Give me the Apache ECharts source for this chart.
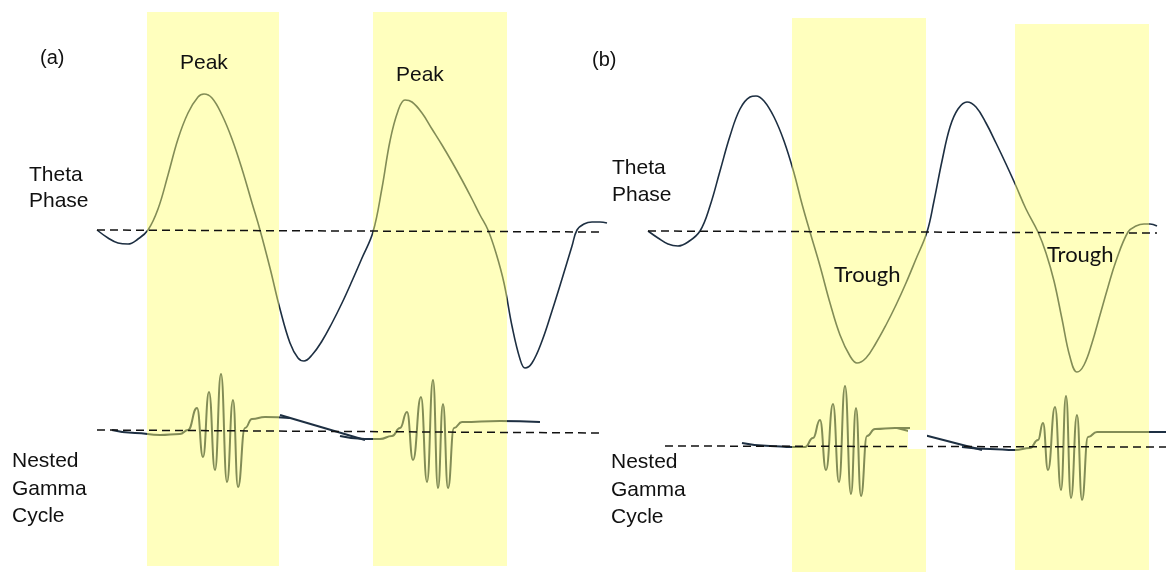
<!DOCTYPE html>
<html>
<head>
<meta charset="utf-8">
<script src="https://cdn.jsdelivr.net/npm/echarts@6/dist/echarts.min.js"></script>
<style>
  html, body { margin: 0; padding: 0; background: #fff; }
  #chart { width: 1166px; height: 573px; }
</style>
</head>
<body>
<div id="chart"></div>
<script>
// Time in ms, amplitude in µV relative to each trace's resting level.

// (a) theta wave: gamma bursts ride on the peaks
const thetaA = [
  [3.5, 1], [9, -7], [14, -12], [19, -13], [24, -8], [29, 1], [34, 22], [39, 56],
  [44, 92], [49, 118], [54, 134], [57, 137], [61, 133], [66, 116], [71, 92], [76, 62],
  [81, 28], [85, 1], [90, -37], [95, -78], [100, -112], [104, -127], [107, -130],
  [111, -124], [116, -110], [121, -92], [126, -72], [131, -50], [136, -27], [141.5, -1],
  [146, 43], [150, 90], [154, 120], [157.5, 131], [161, 129], [166, 118], [171, 102],
  [176, 86], [181, 69], [186, 51], [191, 32], [195, 16], [199, 1], [203, -22],
  [207, -52], [211, -95], [215, -128], [217.5, -137], [221, -132], [226, -110],
  [231, -80], [236, -48], [241, -15], [243.5, 1], [247, 7], [251, 9], [255, 9],
  [258.5, 8]
];
const thetaBaseA = [[3.5, 1], [256.5, -1]];

const gammaA1 = [
  [11, 0], [22.5, -3], [35, -5], [45, -4], [49, 0], [53.5, 22], [56.5, -27],
  [59.5, 38], [62.5, -40], [65.5, 56], [68.5, -52], [71.5, 30], [74, -57],
  [77.5, 2], [81, 11], [87.5, 13], [100, 12]
];
const gammaLinkA = [[95, 15], [137.5, -10]];
const gammaA2 = [
  [125, -6], [137.5, -9], [145, -9], [151, -6], [155, 2], [158.5, 18], [161.5, -30],
  [165.5, 33], [168.5, -52], [171.5, 50], [174, -58], [176.5, 26], [179, -58],
  [182, 2], [186, 8], [205, 9], [225, 8]
];
const gammaBaseA = [[3.5, 0], [256.5, -3]];

// (b) theta wave: gamma bursts ride on the troughs
const thetaB = [
  [4, 0], [9, -7], [14, -13], [19, -15], [24, -11], [30, 0], [35, 25], [40, 60],
  [45, 95], [50, 122], [55, 134], [58, 135], [62, 130], [67, 114], [72, 90], [77, 58],
  [81, 27], [85, -1], [90, -35], [95, -72], [100, -104], [105, -125], [108.5, -132],
  [113, -127], [118, -112], [123, -94], [128, -74], [133, -52], [138, -28], [143.5, -1],
  [147, 30], [151, 70], [155, 104], [159, 122], [163.5, 129], [168, 124], [173, 108],
  [178, 88], [183, 67], [188, 45], [193, 22], [199, -1], [203, -22], [207, -50],
  [211, -88], [215, -126], [218.5, -141], [222, -134], [226, -112], [230, -84],
  [234, -56], [238, -30], [244, -1], [248, 5], [252, 7], [255, 7], [258.5, 5]
];
const thetaBaseB = [[4, 0], [258.5, -2]];

const gammaB1 = [
  [51, 3], [65, 0], [76, -1], [82.5, -1], [86.5, 8], [90, 26], [93, -24], [96.5, 42],
  [99.5, -36], [102.5, 60], [105.5, -48], [108, 38], [110.5, -50], [113.5, 10],
  [117.5, 17], [127.5, 18], [135, 18]
];
const gammaLinkB = [[128.5, 18], [171, -4]];
const gammaB2 = [
  [161, -1], [175, -3], [187.5, -4], [195, -2], [199, 6], [201.5, 23], [204, -24],
  [207.5, 39], [210.5, -44], [213, 50], [215.5, -52], [218.5, 31], [221, -54],
  [224, 9], [228.5, 14], [245, 14], [263, 14]
];
const gammaBaseB = [[12.5, 0], [263, -1]];

// shaded phase windows: [start ms, end ms, top µV, bottom µV] on the theta scale
const bandsA = [[28.5, 94.5, 219, -335], [141.5, 208.5, 219, -335]];
const bandsB = [[76, 143, 213, -341], [187.5, 254.5, 207, -339]];

const INK = '#1d2f42';
const BAND = 'rgba(255,255,110,0.45)';

function trace(data, xi, yi, width, smooth, monotone) {
  return {
    type: 'line', xAxisIndex: xi, yAxisIndex: yi, data: data,
    showSymbol: false, symbol: 'none', smooth: smooth,
    smoothMonotone: monotone || null, z: 3,
    lineStyle: { color: INK, width: width }, silent: true
  };
}
function baseline(data, xi, yi) {
  return {
    type: 'line', xAxisIndex: xi, yAxisIndex: yi, data: data,
    showSymbol: false, symbol: 'none', z: 20, silent: true,
    lineStyle: { color: '#111', width: 1.5, type: [8, 5] }
  };
}
function bands(data, xi, yi) {
  return {
    type: 'custom', xAxisIndex: xi, yAxisIndex: yi, data: data, z: 10, silent: true,
    renderItem: function (params, api) {
      const p0 = api.coord([api.value(0), api.value(2)]);
      const p1 = api.coord([api.value(1), api.value(3)]);
      return {
        type: 'rect',
        shape: { x: p0[0], y: p0[1], width: p1[0] - p0[0], height: p1[1] - p0[1] },
        style: { fill: BAND }
      };
    }
  };
}

const SANS = '"Liberation Sans", Arial, sans-serif';
const HUMANIST = 'Lato, "Open Sans", sans-serif';
function label(text, x, y, size, family) {
  return {
    type: 'text', x: x, y: y, z: 100, silent: true,
    style: {
      text: text, fill: '#111', font: size + 'px ' + (family || SANS),
      align: 'left', verticalAlign: 'middle'
    }
  };
}

const hiddenAxis = (min, max, grid) => ({
  type: 'value', gridIndex: grid, min: min, max: max, show: false,
  splitLine: { show: false }
});

const chart = echarts.init(document.getElementById('chart'), null, { renderer: 'canvas' });
chart.setOption({
  animation: false,
  backgroundColor: '#ffffff',
  grid: [
    { left: 90, width: 520, top: 0, bottom: 0, show: false },
    { left: 640, width: 526, top: 0, bottom: 0, show: false }
  ],
  xAxis: [hiddenAxis(0, 260, 0), hiddenAxis(0, 263, 1)],
  yAxis: [
    hiddenAxis(-342, 231, 0),   // theta (a)
    hiddenAxis(-143, 430, 0),   // gamma (a)
    hiddenAxis(-342, 231, 1),   // theta (b)
    hiddenAxis(-127, 446, 1)    // gamma (b)
  ],
  series: [
    baseline(thetaBaseA, 0, 0),
    baseline(gammaBaseA, 0, 1),
    trace(thetaA, 0, 0, 1.6, 0.4),
    trace(gammaA1, 0, 1, 2, 0.5, 'x'),
    trace(gammaLinkA, 0, 1, 2, false),
    trace(gammaA2, 0, 1, 2, 0.5, 'x'),
    bands(bandsA, 0, 0),

    baseline(thetaBaseB, 1, 2),
    baseline(gammaBaseB, 1, 3),
    trace(thetaB, 1, 2, 1.6, 0.4),
    trace(gammaB1, 1, 3, 2, 0.5, 'x'),
    trace(gammaLinkB, 1, 3, 2, false),
    trace(gammaB2, 1, 3, 2, 0.5, 'x'),
    bands(bandsB, 1, 2)
  ],
  graphic: [
    label('(a)', 40, 58, 20),
    label('Peak', 180, 63, 21),
    label('Peak', 396, 75, 21),
    label('Theta', 29, 175, 21),
    label('Phase', 29, 201, 21),
    label('Nested', 12, 461, 21),
    label('Gamma', 12, 489, 21),
    label('Cycle', 12, 516, 21),

    label('(b)', 592, 60, 20),
    label('Theta', 612, 168, 21),
    label('Phase', 612, 195, 21),
    label('Trough', 834, 275, 22, HUMANIST),
    label('Trough', 1047, 255, 22, HUMANIST),
    label('Nested', 611, 462, 21),
    label('Gamma', 611, 490, 21),
    label('Cycle', 611, 517, 21),
    { type: 'rect', z: 50, silent: true, shape: { x: 908, y: 430, width: 19, height: 19 },
      style: { fill: '#ffffff' } }
  ]
});
</script>
</body>
</html>
